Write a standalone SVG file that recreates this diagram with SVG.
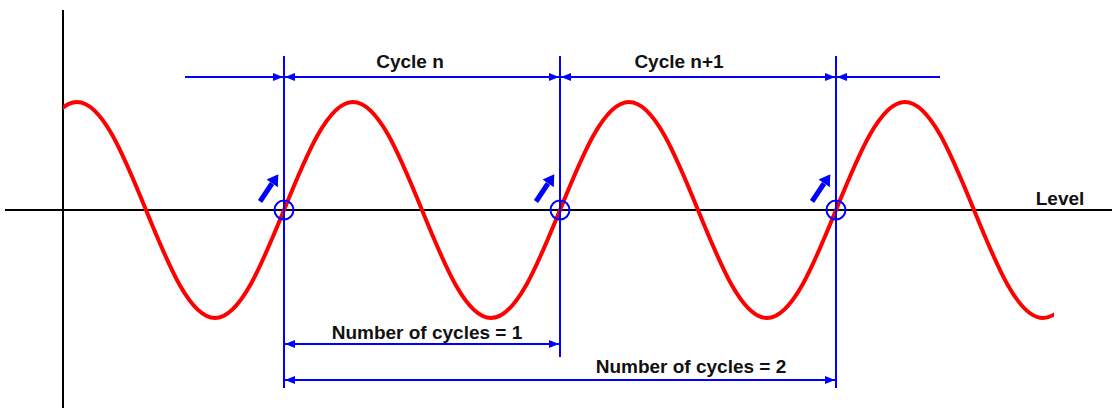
<svg xmlns="http://www.w3.org/2000/svg" xmlns:xlink="http://www.w3.org/1999/xlink" width="1112" height="408" viewBox="0 0 1112 408">
<style>
.axis{stroke:#000;stroke-width:2;fill:none}
.wave{stroke:#ff0000;stroke-width:4;fill:none;stroke-linejoin:round}
.bl{stroke:#0000ff;stroke-width:2;fill:none}
.dim{stroke:#0000ff;stroke-width:2;fill:none}
.circ{stroke:#0000ff;stroke-width:2;fill:none}
.lbl{font-family:"Liberation Sans",Arial,sans-serif;font-weight:bold;font-size:19px;fill:#111}
</style>
<defs>
<marker id="ah" markerUnits="userSpaceOnUse" markerWidth="11" markerHeight="9" refX="10" refY="4" orient="auto-start-reverse" viewBox="0 0 11 9">
<path d="M0,0 L10,4 L0,8 z" fill="#0000ff"/>
</marker>
<clipPath id="wclip"><rect x="63" y="0" width="991" height="408"/></clipPath>
<g id="trig">
<line x1="-24" y1="-8.5" x2="-12" y2="-26.5" stroke="#0000ff" stroke-width="5"/>
<polygon points="-5.7,-35.7 -6.2,-22.8 -17.4,-30.4" fill="#0000ff"/>
</g>
</defs>

<g id="axes">
<line class="axis" x1="63" y1="10" x2="63" y2="408"/>
<line class="axis" x1="5" y1="210" x2="1112" y2="210"/>
</g>

<g id="wave" clip-path="url(#wclip)">
<path class="wave" d="M8,210 c22.5,-55.3 44.03,-108 69,-108 c24.97,0 46.5,52.7 69,108 c22.5,55.3 44.03,108 69,108 c24.97,0 46.5,-52.7 69,-108 c22.5,-55.3 44.03,-108 69,-108 c24.97,0 46.5,52.7 69,108 c22.5,55.3 44.03,108 69,108 c24.97,0 46.5,-52.7 69,-108 c22.5,-55.3 44.03,-108 69,-108 c24.97,0 46.5,52.7 69,108 c22.5,55.3 44.03,108 69,108 c24.97,0 46.5,-52.7 69,-108 c22.5,-55.3 44.03,-108 69,-108 c24.97,0 46.5,52.7 69,108 c22.5,55.3 44.03,108 69,108 c24.97,0 46.5,-52.7 69,-108"/>
</g>

<g id="markers">
<line class="bl" x1="284" y1="56" x2="284" y2="388"/>
<line class="bl" x1="560" y1="56" x2="560" y2="357"/>
<line class="bl" x1="836" y1="56" x2="836" y2="388"/>
</g>

<g id="crossings">
<g id="cross1"><circle class="circ" cx="284" cy="210" r="9.5"/><use xlink:href="#trig" transform="translate(284,210)"/></g>
<g id="cross2"><circle class="circ" cx="560" cy="210" r="9.5"/><use xlink:href="#trig" transform="translate(560,210)"/></g>
<g id="cross3"><circle class="circ" cx="836" cy="210" r="9.5"/><use xlink:href="#trig" transform="translate(836,210)"/></g>
</g>

<g id="connectors">
<line class="dim" x1="185" y1="77" x2="283" y2="77" marker-end="url(#ah)"/>
<line class="dim" x1="285" y1="77" x2="559" y2="77" marker-start="url(#ah)" marker-end="url(#ah)"/>
<line class="dim" x1="561" y1="77" x2="835" y2="77" marker-start="url(#ah)" marker-end="url(#ah)"/>
<line class="dim" x1="837" y1="77" x2="940" y2="77" marker-start="url(#ah)"/>
<line class="dim" x1="285" y1="344" x2="559" y2="344" marker-start="url(#ah)" marker-end="url(#ah)"/>
<line class="dim" x1="285" y1="380" x2="835" y2="380" marker-start="url(#ah)" marker-end="url(#ah)"/>
</g>

<g id="labels">
<text class="lbl" x="410" y="68" text-anchor="middle">Cycle n</text>
<text class="lbl" x="679" y="68" text-anchor="middle">Cycle n+1</text>
<text class="lbl" x="1060" y="205" text-anchor="middle">Level</text>
<text class="lbl" x="427" y="339" text-anchor="middle">Number of cycles = 1</text>
<text class="lbl" x="691" y="373" text-anchor="middle">Number of cycles = 2</text>
</g>
</svg>
